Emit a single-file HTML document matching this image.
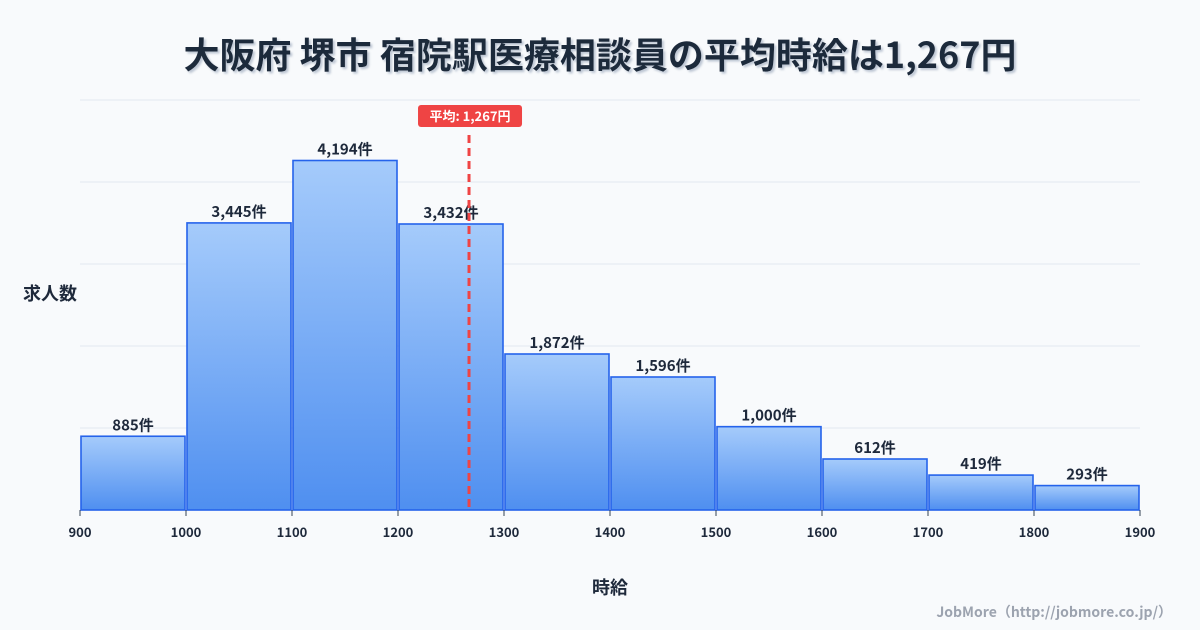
<!DOCTYPE html>
<html><head><meta charset="utf-8"><style>
body{margin:0;background:#f8fafc;font-family:"Noto Sans CJK JP","Liberation Sans",sans-serif;}
svg{display:block}
</style></head><body>
<svg width="1200" height="630" viewBox="0 0 1200 630" font-family="'Noto Sans CJK JP','Liberation Sans',sans-serif">
<defs><linearGradient id="g" x1="0" y1="0" x2="0" y2="1"><stop offset="0" stop-color="#a5cbfb"/><stop offset="1" stop-color="#4f8ff0"/></linearGradient>
<filter id="sh"><feDropShadow dx="2" dy="2" stdDeviation="1" flood-color="#94a3b8" flood-opacity="0.6"/></filter></defs>
<text x="600" y="68" text-anchor="middle" font-size="36" font-weight="bold" fill="#1e293b" filter="url(#sh)">大阪府 堺市 宿院駅医療相談員の平均時給は1,267円</text>
<g id="grid"></g><g id="bars"></g><g id="xt"></g>
<text x="50" y="300" text-anchor="middle" font-size="18" font-weight="bold" fill="#1e293b">求人数</text>
<text x="610" y="594" text-anchor="middle" font-size="18" font-weight="bold" fill="#1e293b">時給</text>
<text x="1172" y="617" text-anchor="end" font-size="14" font-weight="bold" fill="#9ca3af">JobMore（http://jobmore.co.jp/）</text>
<g id="mean"></g>
</svg>
<script>
const binStarts=[900,1000,1100,1200,1300,1400,1500,1600,1700,1800];
const counts=[885,3445,4194,3432,1872,1596,1000,612,419,293];
const xTicks=[900,1000,1100,1200,1300,1400,1500,1600,1700,1800,1900];
const meanValue=1267;
const NS="http://www.w3.org/2000/svg";
const x0=80,x1=1140,xmin=900,xmax=1900,yb=510,yt=100,ymax=4920;
const X=v=>x0+(v-xmin)/(xmax-xmin)*(x1-x0);
const Y=v=>yb-v/ymax*(yb-yt);
function mk(t,a,p){const e=document.createElementNS(NS,t);for(const k in a)e.setAttribute(k,a[k]);p.appendChild(e);return e;}
const grid=document.getElementById('grid');
for(let i=0;i<=5;i++){const y=yb-i*(yb-yt)/5;const l=mk('line',{x1:x0,x2:x1,y1:y,y2:y,stroke:i?'#e2e8f0':'#cbd5e1','stroke-width':1},grid);

}
const bars=document.getElementById('bars');
binStarts.forEach((b,i)=>{const xa=X(b),xb=X(b+100),y=Y(counts[i]);
const r=mk('rect',{x:xa+1,y:y,width:xb-xa-2,height:yb-y,fill:'url(#g)',stroke:'#2563eb','stroke-width':1.6},bars);


const t=mk('text',{x:(xa+xb)/2,y:y-6,'text-anchor':'middle','font-size':15,'font-weight':'bold',fill:'#1e293b'},bars);
t.textContent=counts[i].toLocaleString('en-US')+'件';

});
const xt=document.getElementById('xt');
xTicks.forEach(v=>{mk('line',{x1:X(v),x2:X(v),y1:yb,y2:yb+6,stroke:'#334155'},xt);
const t=mk('text',{x:X(v),y:537,'text-anchor':'middle','font-size':13,'font-weight':'bold',fill:'#1e293b'},xt);t.textContent=v;

});
const m=document.getElementById('mean');const mx=X(meanValue);
const ml=mk('line',{x1:mx,x2:mx,y1:135,y2:yb,stroke:'#ef4444','stroke-width':3,'stroke-dasharray':'8,5'},m);


const mb=mk('rect',{x:mx-51,y:105,width:104,height:22,rx:3,fill:'#ef4444'},m);


const mt=mk('text',{x:mx+1,y:121,'text-anchor':'middle','font-size':13,'font-weight':'bold',fill:'#fff'},m);
mt.textContent='平均: '+meanValue.toLocaleString('en-US')+'円';


</script>
</body></html>
